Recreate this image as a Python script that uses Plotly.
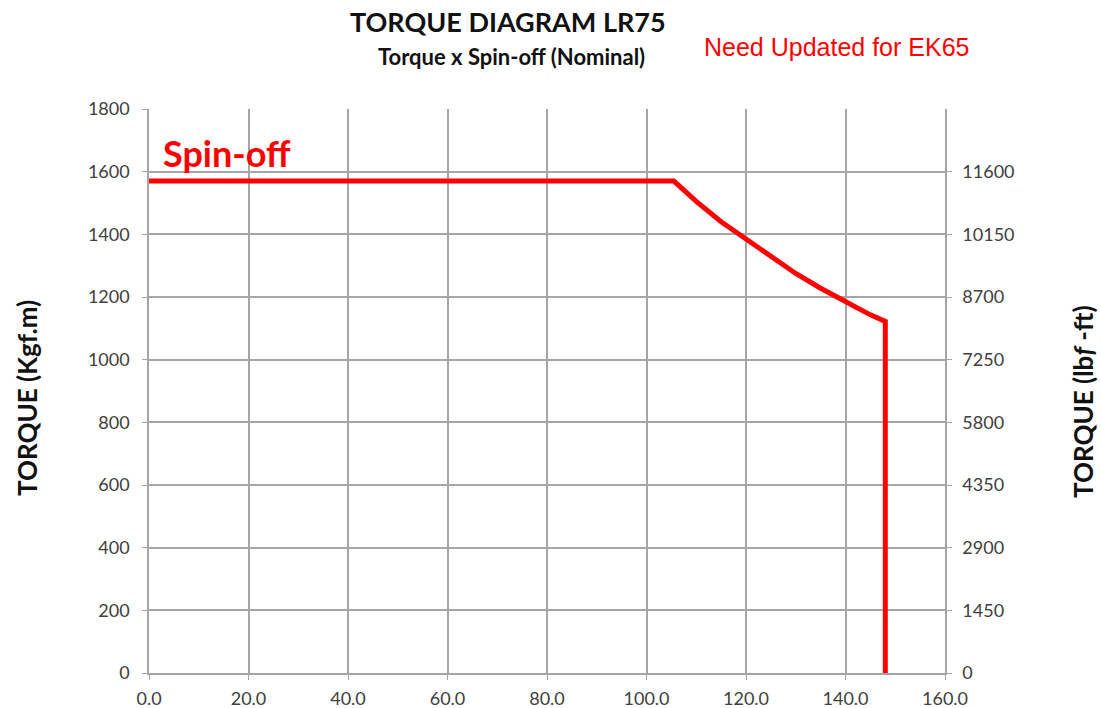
import plotly.graph_objects as go

# Spin-off torque curve (speed vs torque in kgf.m)
speed = [0.0, 105.5, 110.0, 115.0, 120.0, 125.0, 130.0, 135.0, 140.0, 145.0, 148.0, 148.0]
torque_kgfm = [1570, 1570, 1505, 1440, 1385, 1330, 1275, 1228, 1185, 1143, 1122, 0]

x_ticks = [0, 20, 40, 60, 80, 100, 120, 140, 160]
left_ticks = [0, 200, 400, 600, 800, 1000, 1200, 1400, 1600, 1800]
right_ticks = [0, 1450, 2900, 4350, 5800, 7250, 8700, 10150, 11600]
right_labels = ["0", "1450", "2900", "4350", "5800", "7250", "8700", "10150", "11600"]
right_max = 13050  # 1800 kgf.m expressed in lbf-ft

W, H = 1101, 708
ML, MR, MT, MB = 149, 156, 109, 35
PW, PH = W - ML - MR, H - MT - MB

FONT = "Lato, Open Sans, sans-serif"
grid = "#a6a6a6"
tick_font = dict(family=FONT, size=18, color="#404040")


def px(x, y):
    """Convert page pixel position (from top-left) to paper coordinates."""
    return (x - ML) / PW, (H - MB - y) / PH


fig = go.Figure()
fig.add_trace(go.Scatter(
    x=speed, y=torque_kgfm, mode="lines",
    line=dict(color="#ff0000", width=5), showlegend=False, hoverinfo="x+y",
))
# invisible trace so the secondary torque axis is drawn
fig.add_trace(go.Scatter(
    x=[0], y=[0], yaxis="y2", mode="markers",
    marker=dict(opacity=0), showlegend=False, hoverinfo="skip",
))

fig.update_layout(
    width=W, height=H,
    margin=dict(l=ML, r=MR, t=MT, b=MB),
    paper_bgcolor="white", plot_bgcolor="white",
    xaxis=dict(
        range=[0, 160], tickvals=x_ticks, tickformat=".1f",
        showgrid=True, gridcolor=grid, gridwidth=1.5,
        showline=True, linecolor=grid, linewidth=1.5,
        ticks="outside", ticklen=5, tickcolor=grid,
        tickfont=tick_font, zeroline=False, ticklabelstandoff=4,
        automargin=False,
    ),
    yaxis=dict(
        range=[0, 1800], tickvals=left_ticks,
        showgrid=True, gridcolor=grid, gridwidth=1.5,
        showline=True, linecolor=grid, linewidth=1.5,
        ticks="outside", ticklen=5, tickcolor=grid,
        tickfont=tick_font, zeroline=False, ticklabelstandoff=9,
        automargin=False,
    ),
    yaxis2=dict(
        overlaying="y", side="right", range=[0, right_max],
        tickvals=right_ticks, ticktext=right_labels, showgrid=False,
        showline=True, linecolor=grid, linewidth=1.5,
        ticks="outside", ticklen=5, tickcolor=grid,
        tickfont=tick_font, zeroline=False, ticklabelstandoff=7,
        automargin=False,
    ),
)

texts = [
    ("<b>TORQUE DIAGRAM LR75</b>", 508, 22, 0, dict(family=FONT, size=27, color="#111")),
    ("<b>Torque x Spin-off (Nominal)</b>", 511, 57, 0, dict(family=FONT, size=22, color="#111")),
    ("Need Updated for EK65", 836, 47, 0,
     dict(family="Liberation Sans, Arial, sans-serif", size=25, color="#ff0000")),
    ("<b>TORQUE (Kgf.m)</b>", 27, 398, -90, dict(family=FONT, size=26, color="#111")),
    ("<b>TORQUE (lb<i>f</i> -ft)</b>", 1083, 402, -90, dict(family=FONT, size=26, color="#111")),
]
for text, x, y, ang, font in texts:
    ax, ay = px(x, y)
    fig.add_annotation(text=text, x=ax, y=ay, xref="paper", yref="paper",
                       xanchor="center", yanchor="middle", textangle=ang,
                       showarrow=False, font=font)

# curve label placed in data coordinates
fig.add_annotation(text="<b>Spin-off</b>", x=2.5, y=1658, xref="x", yref="y",
                   xanchor="left", yanchor="middle", showarrow=False,
                   font=dict(family=FONT, size=36, color="#ff0000"))

fig.write_html("out.html")
